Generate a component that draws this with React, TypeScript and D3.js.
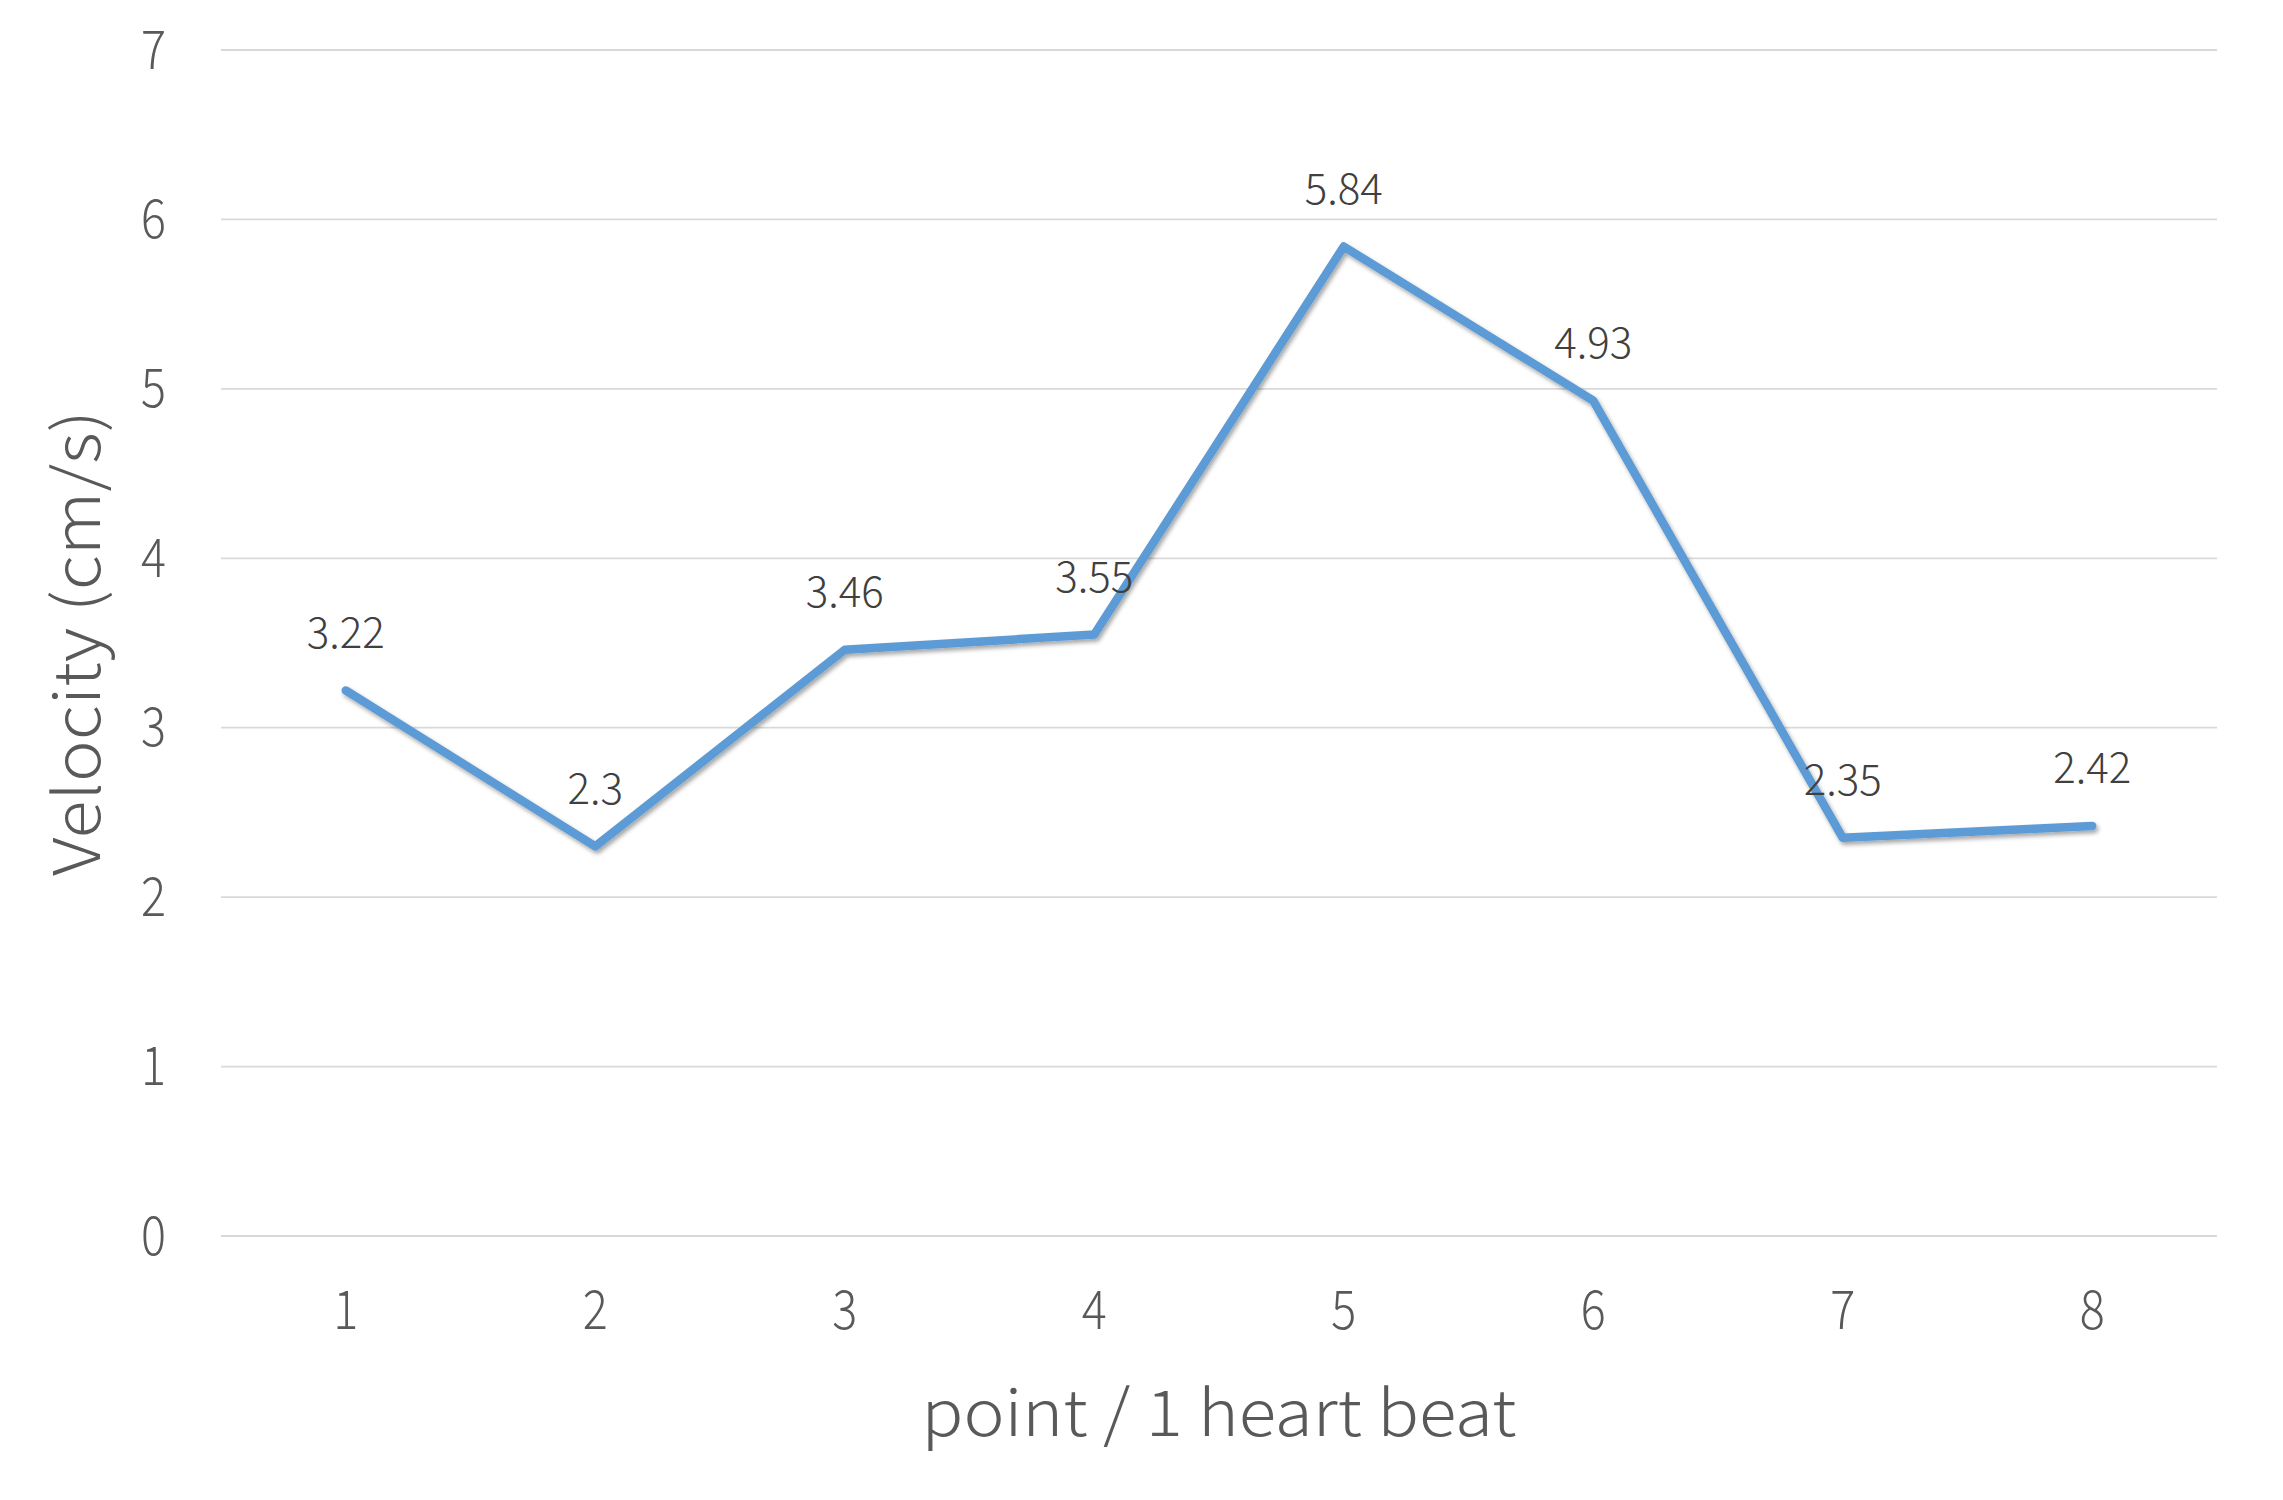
import React from "react";
import * as d3 from "d3";

const categories: string[] = ["1", "2", "3", "4", "5", "6", "7", "8"];
const velocities: number[] = [3.22, 2.3, 3.46, 3.55, 5.84, 4.93, 2.35, 2.42];
const yTicks: number[] = [0, 1, 2, 3, 4, 5, 6, 7];
const xTitle = "point / 1 heart beat";
const yTitle = "Velocity (cm/s)";

const W = 2283;
const H = 1500;
const plotLeft = 221;
const plotRight = 2217;
const plotTop = 50;
const plotBottom = 1236;
const FONT = "'Noto Sans CJK JP', 'Noto Sans', sans-serif";

export default function App() {
  const x = d3.scaleBand<string>().domain(categories).range([plotLeft, plotRight]).padding(0);
  const y = d3.scaleLinear().domain([0, 7]).range([plotBottom, plotTop]);
  const cx = (c: string) => (x(c) as number) + x.bandwidth() / 2;

  const line = d3
    .line<number>()
    .x((_, i) => cx(categories[i]))
    .y((d) => y(d));

  return (
    <svg
      width={W}
      height={H}
      viewBox={`0 0 ${W} ${H}`}
      style={{ position: "absolute", left: 0, top: 0, background: "#ffffff" }}
    >
      <defs>
        <filter id="shadow" x="-10%" y="-10%" width="120%" height="130%">
          <feDropShadow dx="2" dy="3" stdDeviation="2" floodColor="#000" floodOpacity="0.35" />
        </filter>
      </defs>
      <rect x={0} y={0} width={W} height={H} fill="#ffffff" />
      {yTicks.map((t) => (
        <g key={t}>
          <line x1={plotLeft} x2={plotRight} y1={y(t)} y2={y(t)} stroke="#d9d9d9" strokeWidth={1.8} />
          <text
            x={166}
            y={y(t) - 5}
            textAnchor="end"
            dominantBaseline="central"
            fontFamily={FONT}
            fontWeight={300}
            fontSize={54}
            fill="#595959"
            textLength={25}
            lengthAdjust="spacingAndGlyphs"
          >
            {t}
          </text>
        </g>
      ))}
      {categories.map((c) => (
        <text
          key={c}
          x={cx(c)}
          y={1305}
          textAnchor="middle"
          dominantBaseline="central"
          fontFamily={FONT}
          fontWeight={300}
          fontSize={54}
          fill="#595959"
          textLength={25}
          lengthAdjust="spacingAndGlyphs"
        >
          {c}
        </text>
      ))}
      <path
        d={line(velocities) || ""}
        fill="none"
        stroke="#5b9bd5"
        strokeWidth={8.5}
        strokeLinejoin="round"
        strokeLinecap="round"
        filter="url(#shadow)"
      />
      {velocities.map((v, i) => (
        <text
          key={i}
          x={cx(categories[i])}
          y={y(v) - 61}
          textAnchor="middle"
          dominantBaseline="central"
          fontFamily={FONT}
          fontWeight={300}
          fontSize={42}
          fill="#404040"
        >
          {String(v)}
        </text>
      ))}
      <text
        x={(plotLeft + plotRight) / 2}
        y={1408}
        textAnchor="middle"
        dominantBaseline="central"
        fontFamily={FONT}
        fontWeight={300}
        fontSize={64}
        fill="#595959"
        textLength={595}
        lengthAdjust="spacingAndGlyphs"
      >
        {xTitle}
      </text>
      <text
        transform={`translate(72, ${(plotTop + plotBottom) / 2}) rotate(-90)`}
        textAnchor="middle"
        dominantBaseline="central"
        fontFamily={FONT}
        fontWeight={300}
        fontSize={64}
        fill="#595959"
        textLength={466}
        lengthAdjust="spacingAndGlyphs"
      >
        {yTitle}
      </text>
    </svg>
  );
}
